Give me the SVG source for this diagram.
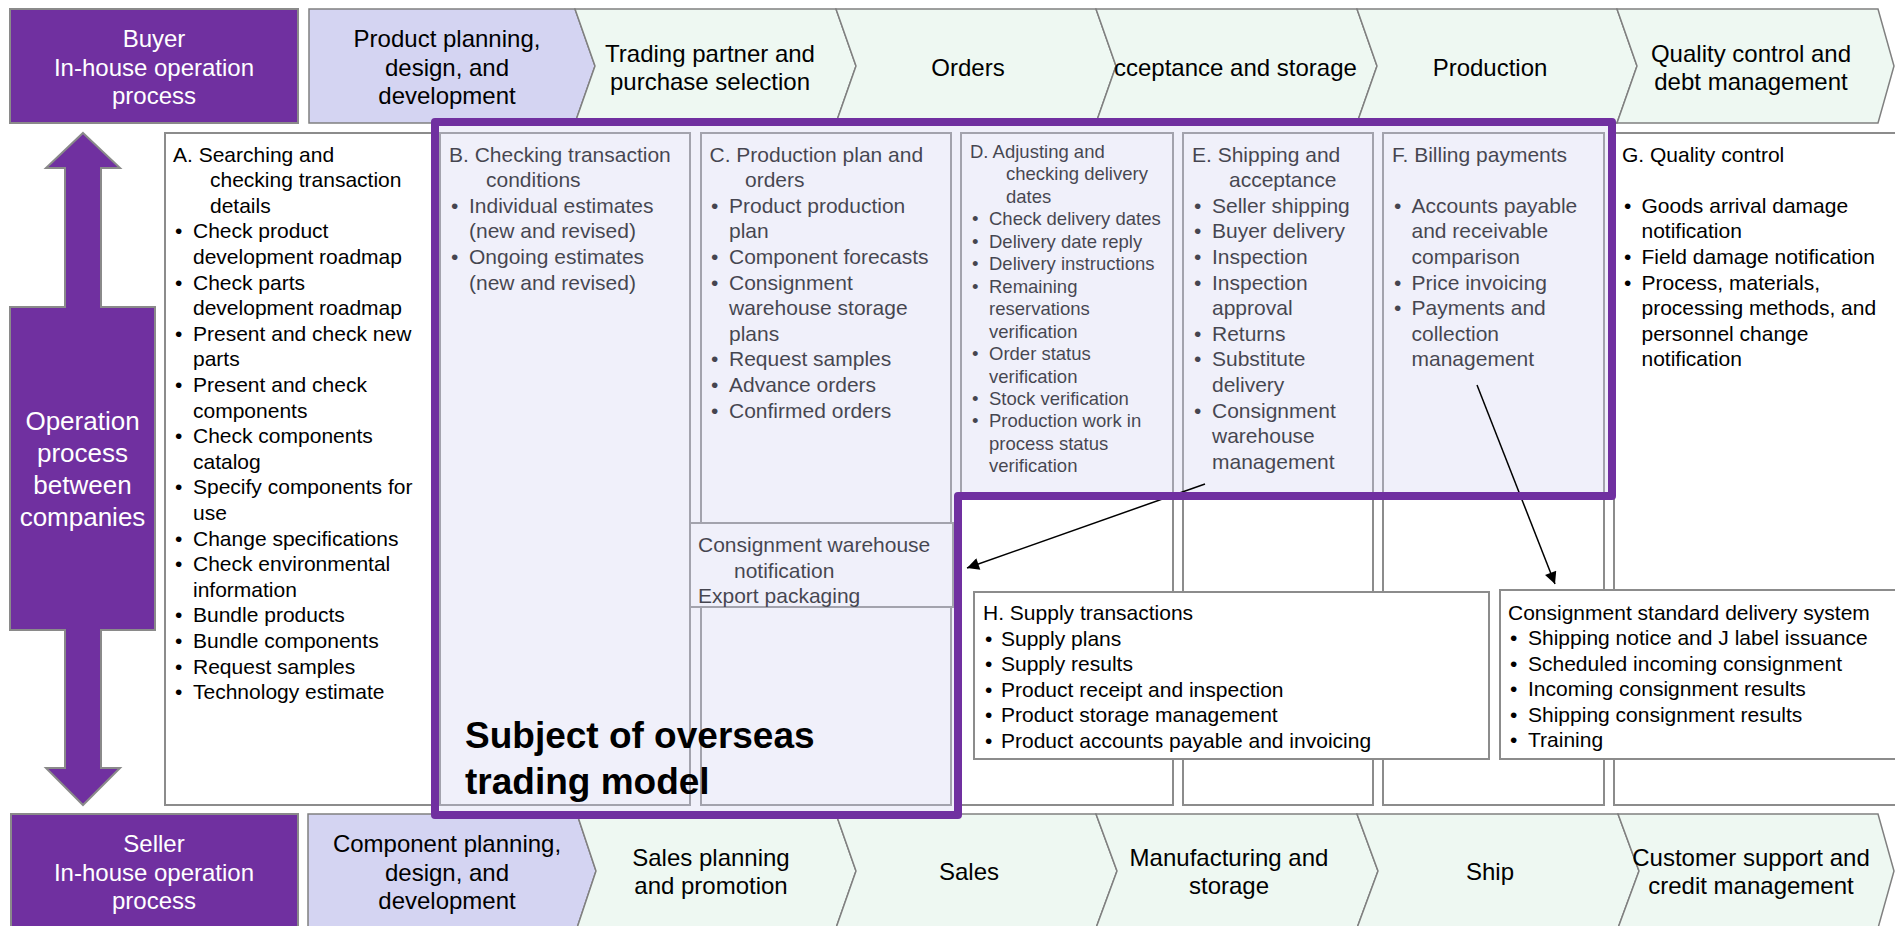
<svg xmlns="http://www.w3.org/2000/svg" width="1895" height="926" viewBox="0 0 1895 926">
<defs>
<style>
text{font-family:"Liberation Sans",Arial,sans-serif;fill:#000}
.h{font-size:24px;text-anchor:middle}
.hw{font-size:24px;text-anchor:middle;fill:#fff}
.t{font-size:21px}
.s{font-size:18.5px}
.pv{fill:#d4d4f2;stroke:#808080;stroke-width:1.5}
.mn{fill:#eef8f2;stroke:#808080;stroke-width:1.5}
.pp{fill:#7030a0;stroke:#8a8a8a;stroke-width:2}
.bx{fill:#fff;stroke:#8c8c8c;stroke-width:2}
.cn{stroke:#000;stroke-width:1.5;fill:none;marker-end:url(#ah)}
</style>
<marker id="ah" viewBox="0 0 10 10" refX="10" refY="5" markerWidth="15" markerHeight="12" markerUnits="userSpaceOnUse" orient="auto">
<path d="M0,0 L10,5 L0,10 Z" fill="#000"/>
</marker>
</defs>

<g id="buyer">
<rect class="pp" x="10" y="9" width="288" height="114"/>
<text class="hw" x="154" y="47">Buyer</text>
<text class="hw" x="154" y="75.5">In-house operation</text>
<text class="hw" x="154" y="104">process</text>
</g>
<g id="top-process">
<polygon class="pv" points="309,9 575,9 595,66 575,123 309,123"/>
<polygon class="mn" points="575,9 836,9 856,66 836,123 575,123 595,66"/>
<polygon class="mn" points="836,9 1096,9 1116,66 1096,123 836,123 856,66"/>
<polygon class="mn" points="1096,9 1357,9 1377,66 1357,123 1096,123 1116,66"/>
<polygon class="mn" points="1357,9 1617,9 1637,66 1617,123 1357,123 1377,66"/>
<polygon class="mn" points="1617,9 1878,9 1894,66 1878,123 1617,123 1637,66"/>
<text class="h" x="447" y="47">Product planning,</text>
<text class="h" x="447" y="75.5">design, and</text>
<text class="h" x="447" y="104">development</text>
<text class="h" x="710" y="62">Trading partner and</text>
<text class="h" x="710" y="90">purchase selection</text>
<text class="h" x="968" y="76">Orders</text>
<text x="1114" y="76" style="font-size:24px">cceptance and storage</text>
<text class="h" x="1490" y="76">Production</text>
<text class="h" x="1751" y="62">Quality control and</text>
<text class="h" x="1751" y="90">debt management</text>
</g>

<g id="seller">
<rect class="pp" x="11" y="814" width="287" height="116"/>
<text class="hw" x="154" y="852">Seller</text>
<text class="hw" x="154" y="880.5">In-house operation</text>
<text class="hw" x="154" y="909">process</text>
</g>
<g id="bottom-process">
<polygon class="pv" points="308,814 577,814 596,871 577,928 308,928"/>
<polygon class="mn" points="577,814 836,814 856,871 836,928 577,928 596,871"/>
<polygon class="mn" points="836,814 1096,814 1117,871 1096,928 836,928 856,871"/>
<polygon class="mn" points="1096,814 1357,814 1378,871 1357,928 1096,928 1117,871"/>
<polygon class="mn" points="1357,814 1618,814 1639,871 1618,928 1357,928 1378,871"/>
<polygon class="mn" points="1618,814 1878,814 1894,871 1878,928 1618,928 1639,871"/>
<text class="h" x="447" y="852">Component planning,</text>
<text class="h" x="447" y="880.5">design, and</text>
<text class="h" x="447" y="909">development</text>
<text class="h" x="711" y="866">Sales planning</text>
<text class="h" x="711" y="894">and promotion</text>
<text class="h" x="969" y="880">Sales</text>
<text class="h" x="1229" y="866">Manufacturing and</text>
<text class="h" x="1229" y="894">storage</text>
<text class="h" x="1490" y="880">Ship</text>
<text class="h" x="1751" y="866">Customer support and</text>
<text class="h" x="1751" y="894">credit management</text>
</g>

<g id="operation-arrow">
<path class="pp" stroke-width="1.5" d="M83,133 L120,168 L101,168 L101,307 L155,307 L155,630 L101,630 L101,768 L120,768 L83,805 L46,768 L65,768 L65,630 L10,630 L10,307 L65,307 L65,168 L46,168 Z"/>
<text x="82.5" y="430" style="font-size:26px;text-anchor:middle;fill:#fff">Operation</text>
<text x="82.5" y="462" style="font-size:26px;text-anchor:middle;fill:#fff">process</text>
<text x="82.5" y="494" style="font-size:26px;text-anchor:middle;fill:#fff">between</text>
<text x="82.5" y="526" style="font-size:26px;text-anchor:middle;fill:#fff">companies</text>
</g>

<g id="box-a">
<rect class="bx" x="165" y="133" width="280" height="672"/>
<g class="t">
<text x="173" y="161.5">A. Searching and</text>
<text x="210" y="187.1">checking transaction</text>
<text x="210" y="212.7">details</text>
<text x="175" y="238.3">•</text><text x="193" y="238.3">Check product</text>
<text x="193" y="263.9">development roadmap</text>
<text x="175" y="289.5">•</text><text x="193" y="289.5">Check parts</text>
<text x="193" y="315.1">development roadmap</text>
<text x="175" y="340.7">•</text><text x="193" y="340.7">Present and check new</text>
<text x="193" y="366.3">parts</text>
<text x="175" y="391.9">•</text><text x="193" y="391.9">Present and check</text>
<text x="193" y="417.5">components</text>
<text x="175" y="443.1">•</text><text x="193" y="443.1">Check components</text>
<text x="193" y="468.7">catalog</text>
<text x="175" y="494.3">•</text><text x="193" y="494.3">Specify components for</text>
<text x="193" y="519.9">use</text>
<text x="175" y="545.5">•</text><text x="193" y="545.5">Change specifications</text>
<text x="175" y="571.1">•</text><text x="193" y="571.1">Check environmental</text>
<text x="193" y="596.7">information</text>
<text x="175" y="622.3">•</text><text x="193" y="622.3">Bundle products</text>
<text x="175" y="647.9">•</text><text x="193" y="647.9">Bundle components</text>
<text x="175" y="673.5">•</text><text x="193" y="673.5">Request samples</text>
<text x="175" y="699.1">•</text><text x="193" y="699.1">Technology estimate</text>
</g>
</g>

<g id="box-b">
<rect class="bx" x="440" y="133" width="250" height="672"/>
<g class="t">
<text x="449" y="161.5">B. Checking transaction</text>
<text x="486" y="187.1">conditions</text>
<text x="451" y="212.7">•</text><text x="469" y="212.7">Individual estimates</text>
<text x="469" y="238.3">(new and revised)</text>
<text x="451" y="263.9">•</text><text x="469" y="263.9">Ongoing estimates</text>
<text x="469" y="289.5">(new and revised)</text>
</g>
</g>

<g id="box-c">
<rect class="bx" x="701" y="133" width="250" height="390"/>
<rect class="bx" x="701" y="607" width="250" height="198"/>
<g class="t">
<text x="709.5" y="161.5">C. Production plan and</text>
<text x="745" y="187.1">orders</text>
<text x="711" y="212.7">•</text><text x="729" y="212.7">Product production</text>
<text x="729" y="238.3">plan</text>
<text x="711" y="263.9">•</text><text x="729" y="263.9">Component forecasts</text>
<text x="711" y="289.5">•</text><text x="729" y="289.5">Consignment</text>
<text x="729" y="315.1">warehouse storage</text>
<text x="729" y="340.7">plans</text>
<text x="711" y="366.3">•</text><text x="729" y="366.3">Request samples</text>
<text x="711" y="391.9">•</text><text x="729" y="391.9">Advance orders</text>
<text x="711" y="417.5">•</text><text x="729" y="417.5">Confirmed orders</text>
</g>
</g>

<g id="box-consignment-warehouse">
<rect class="bx" x="690" y="523" width="263" height="84"/>
<g class="t">
<text x="698" y="552">Consignment warehouse</text>
<text x="734" y="577.6">notification</text>
<text x="698" y="603.2">Export packaging</text>
</g>
</g>

<g id="box-d">
<rect class="bx" x="961" y="133" width="212" height="672"/>
<g class="s">
<text x="970" y="158">D. Adjusting and</text>
<text x="1006" y="180.4">checking delivery</text>
<text x="1006" y="202.9">dates</text>
<text x="972" y="225.3">•</text><text x="989" y="225.3">Check delivery dates</text>
<text x="972" y="247.8">•</text><text x="989" y="247.8">Delivery date reply</text>
<text x="972" y="270.2">•</text><text x="989" y="270.2">Delivery instructions</text>
<text x="972" y="292.7">•</text><text x="989" y="292.7">Remaining</text>
<text x="989" y="315.1">reservations</text>
<text x="989" y="337.6">verification</text>
<text x="972" y="360">•</text><text x="989" y="360">Order status</text>
<text x="989" y="382.5">verification</text>
<text x="972" y="404.9">•</text><text x="989" y="404.9">Stock verification</text>
<text x="972" y="427.4">•</text><text x="989" y="427.4">Production work in</text>
<text x="989" y="449.8">process status</text>
<text x="989" y="472.3">verification</text>
</g>
</g>

<g id="box-e">
<rect class="bx" x="1183" y="133" width="190" height="672"/>
<g class="t">
<text x="1192" y="161.5">E. Shipping and</text>
<text x="1229" y="187.1">acceptance</text>
<text x="1194" y="212.7">•</text><text x="1212" y="212.7">Seller shipping</text>
<text x="1194" y="238.3">•</text><text x="1212" y="238.3">Buyer delivery</text>
<text x="1194" y="263.9">•</text><text x="1212" y="263.9">Inspection</text>
<text x="1194" y="289.5">•</text><text x="1212" y="289.5">Inspection</text>
<text x="1212" y="315.1">approval</text>
<text x="1194" y="340.7">•</text><text x="1212" y="340.7">Returns</text>
<text x="1194" y="366.3">•</text><text x="1212" y="366.3">Substitute</text>
<text x="1212" y="391.9">delivery</text>
<text x="1194" y="417.5">•</text><text x="1212" y="417.5">Consignment</text>
<text x="1212" y="443.1">warehouse</text>
<text x="1212" y="468.7">management</text>
</g>
</g>

<g id="box-f">
<rect class="bx" x="1383" y="133" width="221" height="672"/>
<g class="t">
<text x="1392" y="161.5">F. Billing payments</text>
<text x="1394" y="212.7">•</text><text x="1411.5" y="212.7">Accounts payable</text>
<text x="1411.5" y="238.3">and receivable</text>
<text x="1411.5" y="263.9">comparison</text>
<text x="1394" y="289.5">•</text><text x="1411.5" y="289.5">Price invoicing</text>
<text x="1394" y="315.1">•</text><text x="1411.5" y="315.1">Payments and</text>
<text x="1411.5" y="340.7">collection</text>
<text x="1411.5" y="366.3">management</text>
</g>
</g>

<g id="box-g">
<rect class="bx" x="1614" y="133" width="290" height="672"/>
<g class="t">
<text x="1622" y="161.5">G. Quality control</text>
<text x="1624" y="212.7">•</text><text x="1641.5" y="212.7">Goods arrival damage</text>
<text x="1641.5" y="238.3">notification</text>
<text x="1624" y="263.9">•</text><text x="1641.5" y="263.9">Field damage notification</text>
<text x="1624" y="289.5">•</text><text x="1641.5" y="289.5">Process, materials,</text>
<text x="1641.5" y="315.1">processing methods, and</text>
<text x="1641.5" y="340.7">personnel change</text>
<text x="1641.5" y="366.3">notification</text>
</g>
</g>

<g id="box-h">
<rect class="bx" x="974" y="592" width="515" height="167"/>
<g class="t">
<text x="983" y="620">H. Supply transactions</text>
<text x="985" y="645.6">•</text><text x="1001" y="645.6">Supply plans</text>
<text x="985" y="671.2">•</text><text x="1001" y="671.2">Supply results</text>
<text x="985" y="696.8">•</text><text x="1001" y="696.8">Product receipt and inspection</text>
<text x="985" y="722.4">•</text><text x="1001" y="722.4">Product storage management</text>
<text x="985" y="748">•</text><text x="1001" y="748">Product accounts payable and invoicing</text>
</g>
</g>

<g id="box-consignment-system">
<rect class="bx" x="1500" y="590" width="404" height="169"/>
<g class="t">
<text x="1508" y="619.5">Consignment standard delivery system</text>
<text x="1510" y="645">•</text><text x="1528" y="645">Shipping notice and J label issuance</text>
<text x="1510" y="670.6">•</text><text x="1528" y="670.6">Scheduled incoming consignment</text>
<text x="1510" y="696.2">•</text><text x="1528" y="696.2">Incoming consignment results</text>
<text x="1510" y="721.8">•</text><text x="1528" y="721.8">Shipping consignment results</text>
<text x="1510" y="747.4">•</text><text x="1528" y="747.4">Training</text>
</g>
</g>

<g id="scope-frame-fill">
<path d="M435,122 H1612 V496 H958 V815 H435 Z" fill="rgb(209,209,240)" fill-opacity="0.33"/>
</g>

<g id="connectors">
<line class="cn" x1="1205" y1="484" x2="967" y2="568"/>
<line class="cn" x1="1477" y1="385" x2="1555" y2="584"/>
</g>

<g id="scope-frame">
<path d="M435,122 H1612 V496 H958 V815 H435 Z" fill="none" stroke="#7030a0" stroke-width="8" stroke-linejoin="round"/>
<text x="465" y="748" style="font-size:37px;font-weight:bold">Subject of overseas</text>
<text x="465" y="794" style="font-size:37px;font-weight:bold">trading model</text>
</g>
</svg>
